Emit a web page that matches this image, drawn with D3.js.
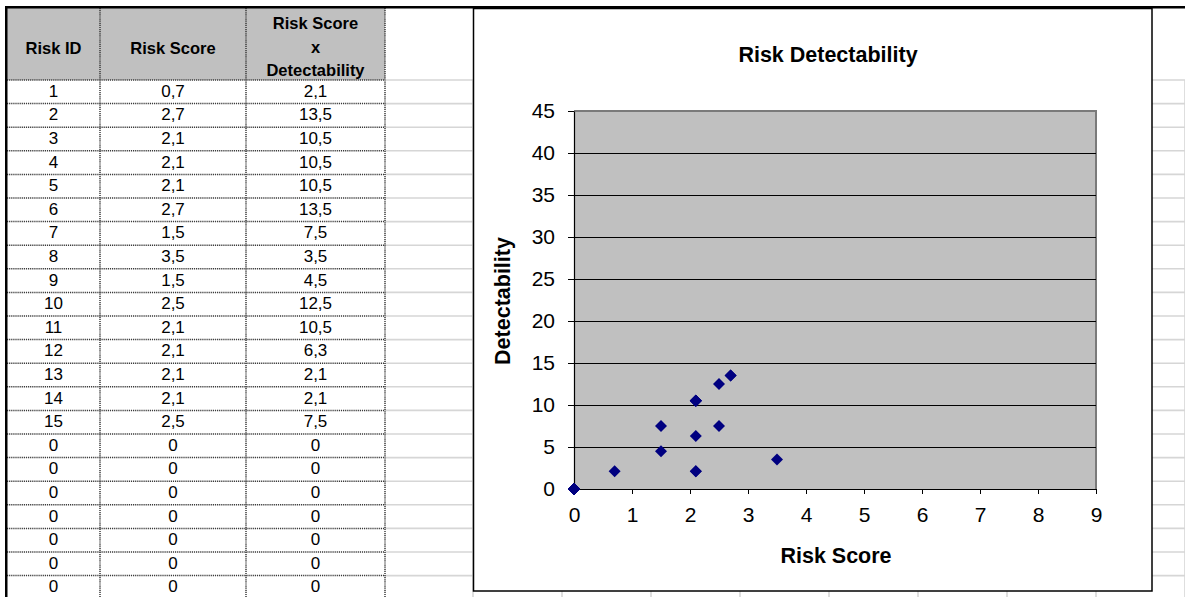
<!DOCTYPE html>
<html>
<head>
<meta charset="utf-8">
<script src="https://cdn.jsdelivr.net/npm/d3@7"></script>
<style>
  html, body { margin: 0; padding: 0; background: #fff; }
  svg { display: block; font-family: "Liberation Sans", Arial, sans-serif; }
</style>
</head>
<body>
<svg id="sheet" width="1185" height="597"></svg>
<script>
// Worksheet data: one row per risk
const riskIds    = [1, 2, 3, 4, 5, 6, 7, 8, 9, 10, 11, 12, 13, 14, 15, 0, 0, 0, 0, 0, 0, 0];
const riskScores = [0.7, 2.7, 2.1, 2.1, 2.1, 2.7, 1.5, 3.5, 1.5, 2.5, 2.1, 2.1, 2.1, 2.1, 2.5, 0, 0, 0, 0, 0, 0, 0];
const detectScores = [2.1, 13.5, 10.5, 10.5, 10.5, 13.5, 7.5, 3.5, 4.5, 12.5, 10.5, 6.3, 2.1, 2.1, 7.5, 0, 0, 0, 0, 0, 0, 0];

const headers = [["Risk ID"], ["Risk Score"], ["Risk Score", "x", "Detectability"]];
const xTicks = [0, 1, 2, 3, 4, 5, 6, 7, 8, 9];
const yTicks = [0, 5, 10, 15, 20, 25, 30, 35, 40, 45];
const chartTitle = "Risk Detectability";
const xTitle = "Risk Score";
const yTitle = "Detectability";

const svg = d3.select("#sheet");
const W = 1185, H = 597;
const fmt = v => String(v).replace(".", ",");

// ---- spreadsheet grid ----
const colEdges = [7, 100, 246, 385];
const headTop = 8, headBottom = 80, rowH = 23.6;
const nRows = riskIds.length;
const rowY = i => headBottom + i * rowH;

const grid = svg.append("g");
// light cell gridlines to the right of the table
d3.range(0, 23).forEach(i => {
  grid.append("line").attr("x1", 385).attr("x2", W)
    .attr("y1", rowY(i)).attr("y2", rowY(i))
    .attr("stroke", "#d6d6d6").attr("stroke-width", 1.6);
});
d3.range(0, 10).forEach(k => {
  const x = 473 + k * 89;
  grid.append("line").attr("x1", x).attr("x2", x)
    .attr("y1", headBottom).attr("y2", H)
    .attr("stroke", "#d6d6d6").attr("stroke-width", 1.6);
});

// ---- table ----
const table = svg.append("g");
table.append("rect").attr("x", colEdges[0]).attr("y", headTop)
  .attr("width", colEdges[3] - colEdges[0]).attr("height", headBottom - headTop)
  .attr("fill", "#c0c0c0");
table.append("rect").attr("x", colEdges[0]).attr("y", headBottom)
  .attr("width", colEdges[3] - colEdges[0]).attr("height", H - headBottom)
  .attr("fill", "#fff");

const dotted = sel => sel.attr("stroke", "#3a3a3a").attr("stroke-width", 1.5)
  .attr("stroke-dasharray", "1.2 0.9");
d3.range(0, nRows + 1).forEach(i => {
  table.append("line").attr("x1", colEdges[0]).attr("x2", colEdges[3])
    .attr("y1", rowY(i)).attr("y2", rowY(i)).call(dotted);
});
colEdges.slice(1).forEach(x => {
  table.append("line").attr("x1", x).attr("x2", x)
    .attr("y1", headTop).attr("y2", H).call(dotted);
});

const colMid = i => (colEdges[i] + colEdges[i + 1]) / 2;
headers.forEach((lines, c) => {
  const base = lines.length === 1 ? [54] : [29, 52.5, 76];
  lines.forEach((t, j) => {
    table.append("text").attr("x", colMid(c)).attr("y", base[j])
      .attr("text-anchor", "middle").attr("font-weight", "bold")
      .attr("font-size", 16.5).attr("fill", "#000").text(t);
  });
});
riskIds.forEach((id, i) => {
  const cells = [String(id), fmt(riskScores[i]), fmt(detectScores[i])];
  cells.forEach((t, c) => {
    table.append("text").attr("x", colMid(c)).attr("y", rowY(i) + rowH / 2 + 5)
      .attr("text-anchor", "middle").attr("font-size", 17).attr("fill", "#000").text(t);
  });
});

// heavy outer edges of the sheet view
svg.append("rect").attr("x", 5).attr("y", 6).attr("width", W - 5).attr("height", 2.5).attr("fill", "#000");
svg.append("rect").attr("x", 5).attr("y", 6).attr("width", 2.5).attr("height", H - 6).attr("fill", "#000");

// ---- embedded chart ----
const chart = svg.append("g");
chart.append("rect").attr("x", 473.5).attr("y", 8.5).attr("width", 678.5).attr("height", 582.5)
  .attr("fill", "#fff").attr("stroke", "#000").attr("stroke-width", 1.5);

const x = d3.scaleLinear().domain([0, 9]).range([574, 1096]);
const y = d3.scaleLinear().domain([0, 45]).range([489, 111]);

// plot area
chart.append("rect").attr("x", x(0)).attr("y", y(45))
  .attr("width", x(9) - x(0)).attr("height", y(0) - y(45)).attr("fill", "#c0c0c0");
// plot area border (top and right)
chart.append("path")
  .attr("d", `M${x(0)},${y(45)}H${x(9)}V${y(0)}`)
  .attr("fill", "none").attr("stroke", "#7a7a7a").attr("stroke-width", 2);

// horizontal gridlines
chart.append("g").attr("transform", `translate(${x(0)},0)`)
  .call(d3.axisLeft(y).tickValues(yTicks.filter(v => v > 0 && v < 45))
    .tickSize(-(x(9) - x(0))).tickFormat(""))
  .call(g => g.select(".domain").remove())
  .call(g => g.selectAll("line").attr("stroke", "#000").attr("stroke-width", 1));

// y axis
chart.append("g").attr("transform", `translate(${x(0)},0)`)
  .call(d3.axisLeft(y).tickValues(yTicks).tickSize(6).tickPadding(13).tickSizeOuter(0))
  .call(g => g.select(".domain").attr("stroke", "#000").attr("stroke-width", 1.2))
  .call(g => g.selectAll("text").attr("font-size", 21).attr("fill", "#000")
    .attr("font-family", "Liberation Sans, Arial, sans-serif"))
  .call(g => g.selectAll("line").attr("stroke", "#000"));

// x axis
chart.append("g").attr("transform", `translate(0,${y(0)})`)
  .call(d3.axisBottom(x).tickValues(xTicks).tickSize(5).tickPadding(13).tickSizeOuter(0))
  .call(g => g.select(".domain").attr("stroke", "#000").attr("stroke-width", 1.2))
  .call(g => g.selectAll("text").attr("font-size", 21).attr("fill", "#000")
    .attr("font-family", "Liberation Sans, Arial, sans-serif"))
  .call(g => g.selectAll("line").attr("stroke", "#000"));

// diamond markers
const r = 6;
chart.append("g").selectAll("path")
  .data(riskScores.map((s, i) => ({ s, d: detectScores[i] })))
  .join("path")
  .attr("transform", d => `translate(${x(d.s)},${y(d.d)})`)
  .attr("d", `M0,${-r}L${r},0L0,${r}L${-r},0Z`)
  .attr("fill", "#000080");

// titles
chart.append("text").attr("x", 828).attr("y", 62).attr("text-anchor", "middle")
  .attr("font-weight", "bold").attr("font-size", 21.5).text(chartTitle);
chart.append("text").attr("x", 836).attr("y", 563).attr("text-anchor", "middle")
  .attr("font-weight", "bold").attr("font-size", 21.5).text(xTitle);
chart.append("text").attr("transform", "translate(510,301) rotate(-90)")
  .attr("text-anchor", "middle").attr("font-weight", "bold").attr("font-size", 21.5).text(yTitle);
</script>
</body>
</html>
